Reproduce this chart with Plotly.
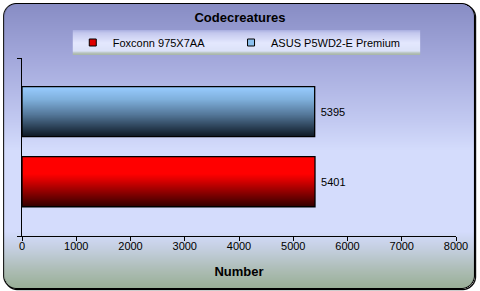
import base64, struct, zlib
import numpy as np
import plotly.graph_objects as go

# ---- data ----
title_text = "Codecreatures"
series_names = ["Foxconn 975X7AA", "ASUS P5WD2-E Premium"]
series_values = [5401, 5395]
x_ticks = [0, 1000, 2000, 3000, 4000, 5000, 6000, 7000, 8000]
x_title = "Number"

W, H = 480, 291
L, R, T, B = 22, 22, 58, 55
PW, PH = W - L - R, H - T - B


def png_uri(rgba):
    h, w, _ = rgba.shape
    raw = b"".join(b"\x00" + rgba[i].astype(np.uint8).tobytes() for i in range(h))
    def chunk(tag, data):
        c = struct.pack(">I", len(data)) + tag + data
        return c + struct.pack(">I", zlib.crc32(tag + data) & 0xffffffff)
    png = b"\x89PNG\r\n\x1a\n" + chunk(b"IHDR", struct.pack(">IIBBBBB", w, h, 8, 6, 0, 0, 0))
    png += chunk(b"IDAT", zlib.compress(raw, 9)) + chunk(b"IEND", b"")
    return "data:image/png;base64," + base64.b64encode(png).decode()


def hexrgb(h):
    h = h.lstrip("#")
    return np.array([int(h[i:i + 2], 16) for i in (0, 2, 4)], float)


def grad_col(stops, t):
    pos = [s[0] for s in stops]
    cols = np.array([hexrgb(s[1]) for s in stops])
    return np.stack([np.interp(t, pos, cols[:, k]) for k in range(3)], -1)


# background: rounded rectangle with vertical gradient
bg_stops = [(0, "#868bc3"), (60, "#a4a9dc"), (120, "#c2c9f1"), (150, "#d4dcfc"),
            (232, "#d4dcfc"), (250, "#c3cede"), (270, "#adbdb5"), (291, "#96ad92")]
yy, xx = np.mgrid[0:H, 0:W].astype(float)
img = np.zeros((H, W, 4))
img[..., :3] = grad_col(bg_stops, yy + 0.5)
x0, y0, x1, y1, rad = 3.5, 3.5, 476.5, 288.5, 13


def rr_dist(px, py, x0, y0, x1, y1, r):
    cx = np.clip(px, x0 + r, x1 - r)
    cy = np.clip(py, y0 + r, y1 - r)
    return np.hypot(px - cx, py - cy) - r


px, py = xx + 0.5, yy + 0.5
d = rr_dist(px, py, x0, y0, x1, y1, rad)
d_sh = rr_dist(px - 1, py - 1, x0, y0, x1, y1, rad)
inside = np.clip(0.5 - d, 0, 1)
border = np.clip(1.0 - np.abs(d) * 1.0, 0, 1)
shadow = np.clip(1.2 - np.abs(d_sh), 0, 1) * (d > -0.5)
white = np.ones((H, W, 3)) * 255
col = white * (1 - inside[..., None]) + img[..., :3] * inside[..., None]
ink = np.maximum(border, shadow)[..., None]
col = col * (1 - ink) + np.array([0, 0, 0]) * ink
img[..., :3] = col
img[..., 3] = 255
bg_uri = png_uri(img)

# legend box gradient
LX0, LX1, LY0, LY1 = 73, 422, 30, 55
lh, lw = LY1 - LY0, LX1 - LX0
lg_stops = [(0, "#a9aee0"), (3, "#c4c8ee"), (13, "#e4e8fe"), (21, "#dce2f8"), (23, "#b6c2bc"), (25, "#a7b5a4")]
lt = np.arange(lh) + 0.5
lrow = grad_col(lg_stops, lt)
limg = np.zeros((lh, lw, 4))
limg[..., :3] = lrow[:, None, :]
limg[..., 3] = 255
lg_uri = png_uri(limg)


def fx(px_):
    return (px_ - L) / PW


def fy(py_):
    return (H - B - py_) / PH


fig = go.Figure()

# y positions (numeric) for the two series; range chosen to match layout
centers = [0, 1]
bar_w = 0.715
y_range = [-0.775, 1.765]

red_stops = [(0, "#300000"), (0.12, "#560000"), (0.35, "#a00000"), (0.55, "#e00000"), (0.66, "#ff0000"), (1, "#ff0000")]
blue_stops = [(0, "#0d1620"), (0.15, "#24374a"), (0.45, "#55789a"), (0.75, "#7fb0dc"), (1, "#99ccff")]
solid = ["#e00000", "#8cc0ee"]
stops_list = [red_stops, blue_stops]
legend_ids = ["legend", "legend2"]
legend_text_px = [113, 272]   # left edge of each legend text
K = 50

for name, val, c, stops, sc in zip(series_names, series_values, centers, stops_list, solid):
    t = (np.arange(K) + 0.5) / K
    ys = c - bar_w / 2 + t * bar_w
    cols = grad_col(stops, t)
    colors = ["rgb(%d,%d,%d)" % tuple(v) for v in cols.astype(int)]
    fig.add_trace(go.Bar(x=[val] * K, y=ys, orientation="h", width=bar_w / K * 1.02,
                         marker=dict(color=colors, line=dict(width=0)),
                         showlegend=False, hoverinfo="skip"))
for name, val, c in zip(series_names, series_values, centers):
    fig.add_trace(go.Bar(x=[val], y=[c], orientation="h", width=bar_w,
                         marker=dict(color="rgba(0,0,0,0)", line=dict(color="#000", width=1.3)),
                         text=["\u00a0" + str(val)], textposition="outside", cliponaxis=False,
                         textfont=dict(family="Liberation Sans, Arial", size=11, color="#000"),
                         showlegend=False, hoverinfo="skip"))
# legend entries (small square swatches)
for name, sc, lid in zip(series_names, solid, legend_ids):
    fig.add_trace(go.Scatter(x=[None], y=[None], mode="markers", name=name, legend=lid,
                             marker=dict(symbol="square", size=7, color=sc,
                                         line=dict(color="#000", width=1)),
                             hoverinfo="skip"))

leg_common = dict(orientation="h", xanchor="left", y=fy(42.5), yanchor="middle",
                  bgcolor="rgba(0,0,0,0)", font=dict(size=11), itemwidth=30)

fig.update_layout(
    width=W, height=H, margin=dict(l=L, r=R, t=T, b=B),
    paper_bgcolor="white", plot_bgcolor="rgba(0,0,0,0)",
    barmode="overlay",
    font=dict(family="Liberation Sans, Arial", size=11, color="#000"),
    title=dict(text="<b>" + title_text + "</b>", x=0.5, xanchor="center",
               y=1 - 17 / H, yanchor="middle", font=dict(size=13, color="#000")),
    xaxis=dict(range=[x_ticks[0], x_ticks[-1]], tickvals=x_ticks, ticks="outside", ticklen=4,
               tickcolor="#000", showline=True, linecolor="#000", linewidth=1, showgrid=False,
               zeroline=False, title=dict(text="<b>" + x_title + "</b>", standoff=15),
               tickfont=dict(size=11), ticklabelstandoff=-4),
    yaxis=dict(range=y_range, tickvals=y_range, ticktext=["", ""], ticks="outside", ticklen=4,
               tickcolor="#000", showline=True, linecolor="#000", linewidth=1, showgrid=False,
               zeroline=False),
    legend=dict(x=fx(legend_text_px[0] - 40), **leg_common),
    legend2=dict(x=fx(legend_text_px[1] - 40), **leg_common),
    images=[
        dict(source=bg_uri, xref="paper", yref="paper", x=fx(0), y=fy(0), sizex=W / PW, sizey=H / PH,
             xanchor="left", yanchor="top", sizing="stretch", layer="below"),
        dict(source=lg_uri, xref="paper", yref="paper", x=fx(LX0), y=fy(LY0), sizex=lw / PW, sizey=lh / PH,
             xanchor="left", yanchor="top", sizing="stretch", layer="below"),
    ],
)

fig.write_html("out.html")
